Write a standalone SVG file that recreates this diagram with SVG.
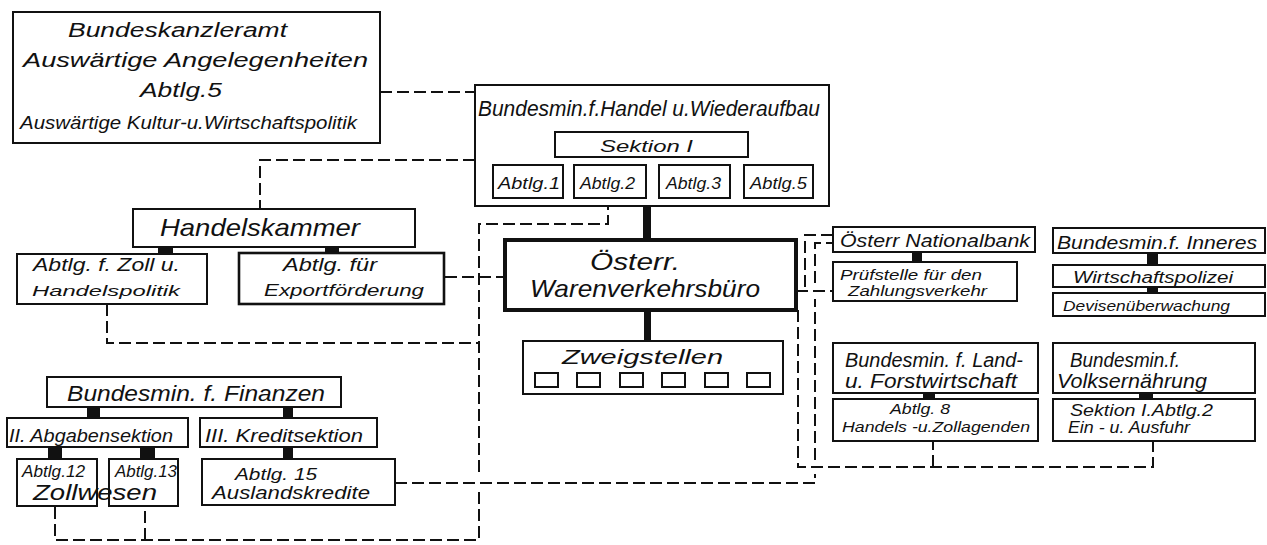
<svg xmlns="http://www.w3.org/2000/svg" width="1267" height="545" viewBox="0 0 1267 545">
<style>
.b{fill:#fff;stroke:#111;stroke-width:2}
.bt{fill:#fff;stroke:#111;stroke-width:4}
.bm{fill:#fff;stroke:#111;stroke-width:2.6}
.k{fill:#111}
.d{fill:none;stroke:#111;stroke-width:2;stroke-dasharray:12 5}
text{font-family:"Liberation Sans",Arial,sans-serif;font-style:italic;fill:#111}
</style>
<rect width="1267" height="545" fill="#fff"/>
<g id="connectors">
<path class="d" d="M380 92H475"/>
<path class="d" d="M475 160H260V209"/>
<path class="d" d="M608 198V224H479V476M479 492V540H55V506M145 540V506"/>
<path class="d" d="M107 304V343H479"/>
<path class="d" d="M445 277H505"/>
<path class="d" d="M395 483H815V474M815 460V299M815 283V243H833"/>
<path class="d" d="M796 291H833M833 235H805V291"/>
<path class="d" d="M798 310V467H1153V441M933 467V441"/>
<rect class="k" x="643" y="206" width="8" height="34"/>
<rect class="k" x="644" y="310" width="7" height="31"/>
<rect class="k" x="158" y="247" width="15" height="6"/>
<rect class="k" x="325" y="247" width="14" height="6"/>
<rect class="k" x="912" y="252" width="10" height="10"/>
<rect class="k" x="1147" y="253" width="11" height="12"/>
<rect class="k" x="1147" y="287" width="11" height="6"/>
<rect class="k" x="923" y="393" width="12" height="6"/>
<rect class="k" x="1139" y="393" width="14" height="6"/>
<rect class="k" x="87" y="407" width="13" height="11"/>
<rect class="k" x="283" y="407" width="10" height="11"/>
<rect class="k" x="48" y="447" width="14" height="12"/>
<rect class="k" x="140" y="447" width="15" height="12"/>
<rect class="k" x="283" y="447" width="10" height="12"/>
</g>
<g id="bundeskanzleramt">
<rect class="b" x="13" y="12" width="367" height="131"/>
<text x="68" y="37" font-size="20" textLength="219" lengthAdjust="spacingAndGlyphs">Bundeskanzleramt</text>
<text x="23" y="67" font-size="20" textLength="345" lengthAdjust="spacingAndGlyphs">Auswärtige Angelegenheiten</text>
<text x="140" y="97" font-size="20" textLength="82" lengthAdjust="spacingAndGlyphs">Abtlg.5</text>
<text x="20" y="129" font-size="19" textLength="337" lengthAdjust="spacingAndGlyphs">Auswärtige Kultur-u.Wirtschaftspolitik</text>
</g>
<g id="handel">
<rect class="b" x="475" y="85" width="354" height="121"/>
<text x="478" y="116" font-size="22" textLength="342" lengthAdjust="spacingAndGlyphs">Bundesmin.f.Handel u.Wiederaufbau</text>
</g>
<g id="sektion1">
<rect class="b" x="555" y="132" width="193" height="25"/>
<text x="600" y="152" font-size="17" textLength="93" lengthAdjust="spacingAndGlyphs">Sektion I</text>
</g>
<g id="abtlg1"><rect class="b" x="493" y="165" width="70" height="33"/><text x="498" y="189" font-size="17" textLength="62" lengthAdjust="spacingAndGlyphs">Abtlg.1</text></g>
<g id="abtlg2"><rect class="b" x="574" y="165" width="72" height="33"/><text x="580" y="189" font-size="17" textLength="55" lengthAdjust="spacingAndGlyphs">Abtlg.2</text></g>
<g id="abtlg3"><rect class="b" x="659" y="165" width="71" height="33"/><text x="666" y="189" font-size="17" textLength="55" lengthAdjust="spacingAndGlyphs">Abtlg.3</text></g>
<g id="abtlg5"><rect class="b" x="744" y="165" width="69" height="33"/><text x="750" y="189" font-size="17" textLength="57" lengthAdjust="spacingAndGlyphs">Abtlg.5</text></g>
<g id="handelskammer">
<rect class="b" x="133" y="209" width="282" height="38"/>
<text x="160" y="236" font-size="24" textLength="200" lengthAdjust="spacingAndGlyphs">Handelskammer</text>
</g>
<g id="zoll">
<rect class="b" x="17" y="254" width="190" height="50"/>
<text x="33" y="271" font-size="19" textLength="147" lengthAdjust="spacingAndGlyphs">Abtlg. f. Zoll u.</text>
<text x="32" y="296" font-size="15" textLength="148" lengthAdjust="spacingAndGlyphs">Handelspolitik</text>
</g>
<g id="export">
<rect class="bm" x="239" y="253" width="205" height="51"/>
<text x="283" y="271" font-size="19" textLength="94" lengthAdjust="spacingAndGlyphs">Abtlg. für</text>
<text x="264" y="296" font-size="17" textLength="160" lengthAdjust="spacingAndGlyphs">Exportförderung</text>
</g>
<g id="warenverkehrsbuero">
<rect class="bt" x="505" y="240" width="291" height="70"/>
<text x="590" y="270" font-size="24" textLength="90" lengthAdjust="spacingAndGlyphs">Österr.</text>
<text x="530" y="297" font-size="24" textLength="230" lengthAdjust="spacingAndGlyphs">Warenverkehrsbüro</text>
</g>
<g id="zweigstellen">
<rect class="b" x="523" y="341" width="260" height="53"/>
<text x="562" y="364" font-size="20" textLength="161" lengthAdjust="spacingAndGlyphs">Zweigstellen</text>
<rect class="b" x="535" y="373" width="23" height="14"/>
<rect class="b" x="577" y="373" width="23" height="14"/>
<rect class="b" x="620" y="373" width="23" height="14"/>
<rect class="b" x="662" y="373" width="23" height="14"/>
<rect class="b" x="705" y="373" width="23" height="14"/>
<rect class="b" x="747" y="373" width="23" height="14"/>
</g>
<g id="nationalbank">
<rect class="b" x="833" y="227" width="202" height="25"/>
<text x="840" y="247" font-size="19" textLength="190" lengthAdjust="spacingAndGlyphs">Österr Nationalbank</text>
</g>
<g id="pruefstelle">
<rect class="b" x="833" y="262" width="184" height="39"/>
<text x="840" y="280" font-size="15" textLength="142" lengthAdjust="spacingAndGlyphs">Prüfstelle für den</text>
<text x="848" y="296" font-size="15" textLength="139" lengthAdjust="spacingAndGlyphs">Zahlungsverkehr</text>
</g>
<g id="inneres">
<rect class="b" x="1053" y="228" width="212" height="25"/>
<text x="1057" y="249" font-size="19" textLength="200" lengthAdjust="spacingAndGlyphs">Bundesmin.f. Inneres</text>
</g>
<g id="wirtschaftspolizei">
<rect class="b" x="1053" y="265" width="212" height="22"/>
<text x="1073" y="283" font-size="16" textLength="160" lengthAdjust="spacingAndGlyphs">Wirtschaftspolizei</text>
</g>
<g id="devisen">
<rect class="b" x="1053" y="293" width="212" height="23"/>
<text x="1063" y="311" font-size="14" textLength="167" lengthAdjust="spacingAndGlyphs">Devisenüberwachung</text>
</g>
<g id="landforst">
<rect class="b" x="833" y="343" width="205" height="50"/>
<text x="845" y="367" font-size="20" textLength="178" lengthAdjust="spacingAndGlyphs">Bundesmin. f. Land-</text>
<text x="845" y="388" font-size="20" textLength="172" lengthAdjust="spacingAndGlyphs">u. Forstwirtschaft</text>
</g>
<g id="abtlg8">
<rect class="b" x="833" y="399" width="205" height="42"/>
<text x="890" y="414" font-size="15" textLength="60" lengthAdjust="spacingAndGlyphs">Abtlg. 8</text>
<text x="842" y="432" font-size="15" textLength="188" lengthAdjust="spacingAndGlyphs">Handels -u.Zollagenden</text>
</g>
<g id="volksernaehrung">
<rect class="b" x="1053" y="343" width="202" height="50"/>
<text x="1070" y="367" font-size="20" textLength="110" lengthAdjust="spacingAndGlyphs">Bundesmin.f.</text>
<text x="1057" y="388" font-size="20" textLength="150" lengthAdjust="spacingAndGlyphs">Volksernährung</text>
</g>
<g id="sektion1abtlg2">
<rect class="b" x="1053" y="399" width="202" height="42"/>
<text x="1070" y="416" font-size="16" textLength="143" lengthAdjust="spacingAndGlyphs">Sektion I.Abtlg.2</text>
<text x="1068" y="433" font-size="16" textLength="122" lengthAdjust="spacingAndGlyphs">Ein - u. Ausfuhr</text>
</g>
<g id="finanzen">
<rect class="b" x="47" y="377" width="294" height="30"/>
<text x="67" y="401" font-size="22" textLength="258" lengthAdjust="spacingAndGlyphs">Bundesmin. f. Finanzen</text>
</g>
<g id="abgabensektion">
<rect class="b" x="7" y="418" width="181" height="29"/>
<text x="9" y="442" font-size="18" textLength="164" lengthAdjust="spacingAndGlyphs">II. Abgabensektion</text>
</g>
<g id="kreditsektion">
<rect class="b" x="200" y="418" width="177" height="29"/>
<text x="205" y="442" font-size="18" textLength="158" lengthAdjust="spacingAndGlyphs">III. Kreditsektion</text>
</g>
<g id="abtlg12"><rect class="b" x="17" y="459" width="80" height="47"/><text x="22" y="477" font-size="16" textLength="63" lengthAdjust="spacingAndGlyphs">Abtlg.12</text></g>
<g id="abtlg13"><rect class="b" x="109" y="459" width="69" height="47"/><text x="115" y="477" font-size="16" textLength="62" lengthAdjust="spacingAndGlyphs">Abtlg.13</text></g>
<g id="zollwesen"><text x="33" y="500" font-size="22" textLength="124" lengthAdjust="spacingAndGlyphs">Zollwesen</text></g>
<g id="abtlg15">
<rect class="b" x="202" y="459" width="193" height="46"/>
<text x="235" y="480" font-size="17" textLength="82" lengthAdjust="spacingAndGlyphs">Abtlg. 15</text>
<text x="212" y="499" font-size="18" textLength="158" lengthAdjust="spacingAndGlyphs">Auslandskredite</text>
</g>
</svg>
